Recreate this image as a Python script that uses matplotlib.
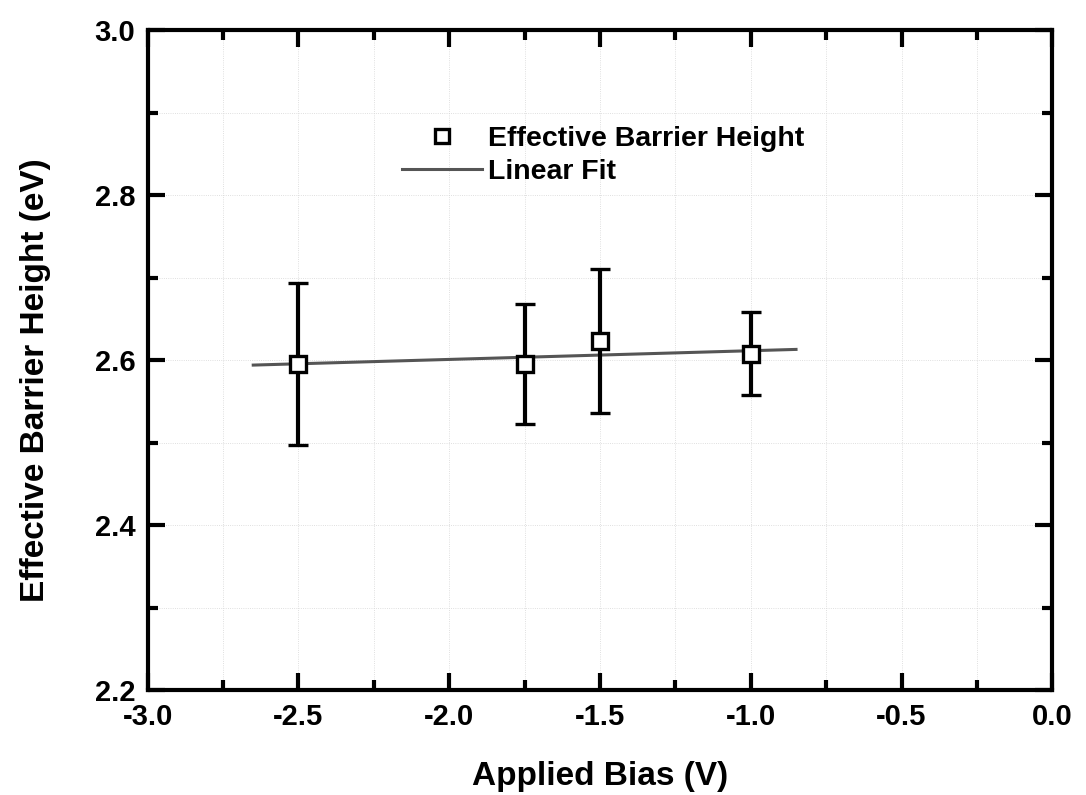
import numpy as np
import matplotlib
matplotlib.use("Agg")
import matplotlib.pyplot as plt
from matplotlib.ticker import MultipleLocator
from matplotlib.lines import Line2D

plt.rcParams["font.family"] = ["Liberation Sans", "DejaVu Sans"]
plt.rcParams["font.weight"] = "bold"
plt.rcParams["axes.unicode_minus"] = False

# data
bias = [-2.5, -1.75, -1.5, -1.0]
barrier = [2.595, 2.595, 2.623, 2.608]
err = [0.098, 0.073, 0.087, 0.050]
fit_x = [-2.65, -0.85]
fit_y = [2.594, 2.613]

fig = plt.figure(figsize=(10.86, 7.95), dpi=100)
ax = fig.add_axes([0.136, 0.132, 0.833, 0.830])

ax.plot(fit_x, fit_y, color="#555555", lw=2.2, zorder=2)
ax.errorbar(bias, barrier, yerr=err, fmt="s", mfc="white", mec="black", mew=2.4,
            ms=11, ecolor="black", elinewidth=3, capsize=7, capthick=3, zorder=3)

ax.set_xlim(-3.0, 0.0)
ax.set_ylim(2.2, 3.0)
ax.xaxis.set_major_locator(MultipleLocator(0.5))
ax.xaxis.set_minor_locator(MultipleLocator(0.25))
ax.yaxis.set_major_locator(MultipleLocator(0.2))
ax.yaxis.set_minor_locator(MultipleLocator(0.1))
ax.tick_params(which="both", direction="in", top=True, right=True, width=3)
ax.tick_params(which="major", length=12, labelsize=21, pad=9)
ax.tick_params(which="minor", length=7)
for sp in ax.spines.values():
    sp.set_linewidth(3)
ax.grid(which="both", color="#d5d5d5", ls=":", lw=0.6)

ax.set_xlabel("Applied Bias (V)", fontsize=24, fontweight="bold", labelpad=22)
ax.set_ylabel("Effective Barrier Height (eV)", fontsize=24, fontweight="bold")
ax.yaxis.set_label_coords(-0.107, 0.47)

handles = [Line2D([], [], ls="none", marker="s", mfc="white", mec="black", mew=2.4, ms=10),
           Line2D([], [], color="#555555", lw=2.2)]
labels = ["Effective Barrier Height", "Linear Fit"]
ax.legend(handles, labels, loc="upper left", bbox_to_anchor=(0.253, 0.894), frameon=False,
          fontsize=20.5, handlelength=2.8, handletextpad=0.2, labelspacing=0.25)

fig.savefig("out.png", dpi=100)
